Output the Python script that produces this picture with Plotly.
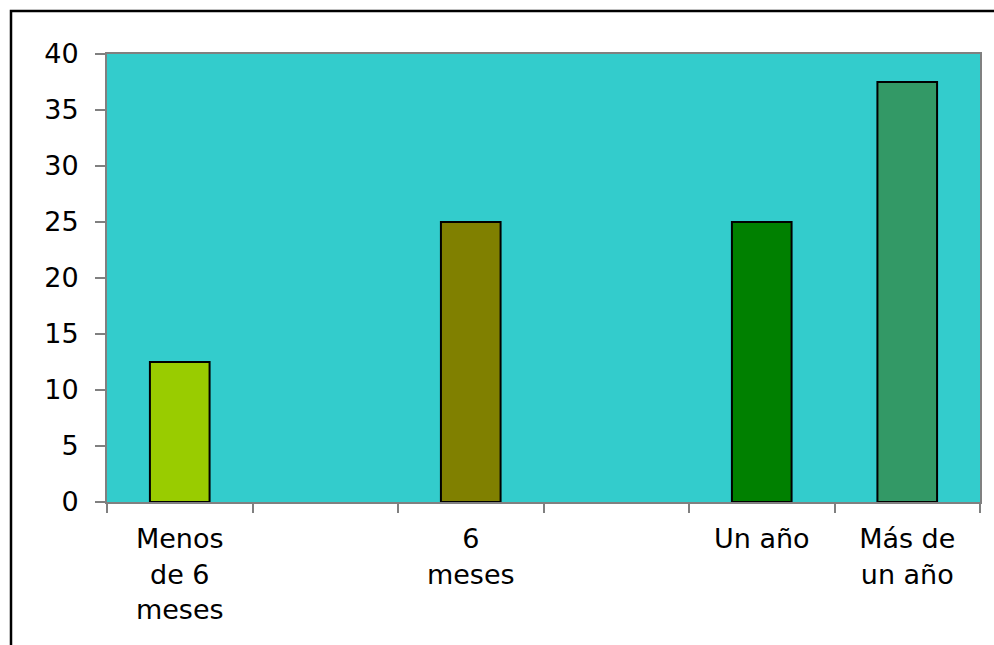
import plotly.graph_objects as go

# Time-period categories (two unlabeled slots keep the original spacing)
categories = ["Menos<br>de 6<br>meses", " ", "6<br>meses", "  ", "Un año", "Más de<br>un año"]
values = [12.5, None, 25, None, 25, 37.5]
bar_colors = ["#99CC00", "#99CC00", "#808000", "#808000", "#008000", "#339966"]
y_ticks = [0, 5, 10, 15, 20, 25, 30, 35, 40]

font_family = "DejaVu Sans, Verdana, sans-serif"

fig = go.Figure(
    go.Bar(
        x=categories,
        y=values,
        width=0.41,
        marker=dict(color=bar_colors, line=dict(color="black", width=2)),
        hoverinfo="skip",
    )
)

fig.update_layout(
    width=994,
    height=645,
    margin=dict(l=107, r=14, t=54, b=143),
    paper_bgcolor="white",
    plot_bgcolor="#33CCCC",
    showlegend=False,
    font=dict(family=font_family, size=27, color="black"),
    xaxis=dict(
        type="category",
        categoryorder="array",
        categoryarray=categories,
        tickson="boundaries",
        ticks="outside",
        ticklen=9,
        tickcolor="#808080",
        tickwidth=1.5,
        showline=True,
        linecolor="#808080",
        linewidth=2,
        mirror=True,
        showgrid=False,
        tickangle=0,
        ticklabelstandoff=12,
        tickfont=dict(family=font_family, size=27),
    ),
    yaxis=dict(
        range=[0, 40],
        tickvals=y_ticks,
        ticks="outside",
        ticklen=10,
        tickcolor="#808080",
        tickwidth=1.5,
        showline=True,
        linecolor="#808080",
        linewidth=2,
        mirror=True,
        showgrid=False,
        zeroline=False,
        ticklabelstandoff=11,
        tickfont=dict(family=font_family, size=27),
    ),
    shapes=[
        # Outer chart frame
        dict(
            type="rect",
            xref="paper",
            yref="paper",
            x0=(11 - 107) / 873,
            x1=(1010 - 107) / 873,
            y0=-(680 - 502) / 448,
            y1=1 + (54 - 11) / 448,
            line=dict(color="black", width=2.5),
            fillcolor="rgba(0,0,0,0)",
            layer="above",
        )
    ],
)

fig.write_html("out.html")
